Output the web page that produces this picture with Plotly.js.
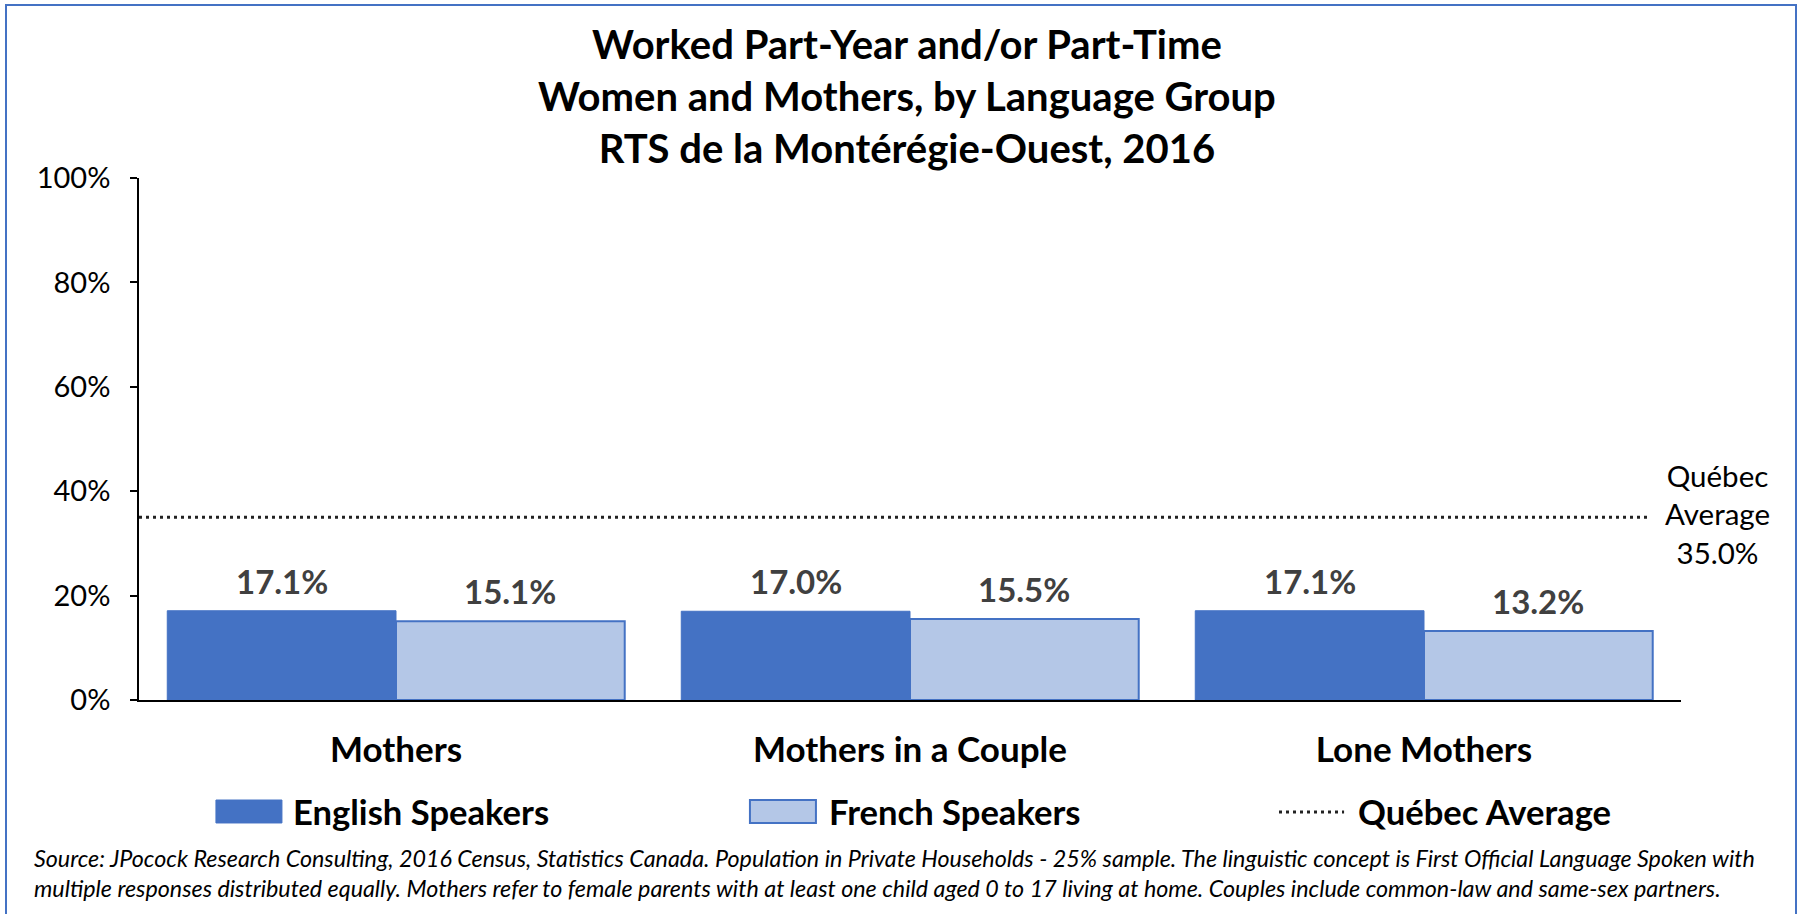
<!DOCTYPE html>
<html>
<head>
<meta charset="utf-8">
<script src="https://cdn.plot.ly/plotly-3.0.1.min.js"></script>
<style>
  html, body { margin: 0; padding: 0; background: #fff; overflow: hidden; }
  #chart { width: 1798px; height: 914px; position: absolute; left: 0; top: 0; }
  #frame { position: absolute; left: 5px; top: 4px; width: 1788px; height: 940px;
           border: 2px solid #4472C4; pointer-events: none; }
</style>
</head>
<body>
<div id="chart"></div>
<div id="frame"></div>
<script>
const categories = ["Mothers", "Mothers in a Couple", "Lone Mothers"];
const englishSpeakers = [17.1, 17.0, 17.1];
const frenchSpeakers = [15.1, 15.5, 13.2];
const quebecAverage = 35.0;
const yTicks = [0, 20, 40, 60, 80, 100];
const yTickText = ["0%", "20%", "40%", "60%", "80%", "100%"];
const seriesNames = ["English Speakers", "French Speakers", "Québec Average"];
const titleLines = ["Worked Part-Year and/or Part-Time", "Women and Mothers, by Language Group", "RTS de la Montérégie-Ouest, 2016"];
const sourceNote = "Source: JPocock Research Consulting, 2016 Census, Statistics Canada. Population in Private Households - 25% sample. The linguistic concept is First Official Language Spoken with<br>multiple responses distributed equally. Mothers refer to female parents with at least one child aged 0 to 17 living at home. Couples include common-law and same-sex partners.";

const FONT = "Lato, 'Open Sans', sans-serif";
const blue = "#4472C4";
const lightBlue = "#B4C7E7";

const W = 1798, H = 914;
const M = { l: 139, r: 117, t: 178, b: 214 };
const BARGAP = 0.11;
const plotW = W - M.l - M.r;
const halfBar = plotW / categories.length * (1 - BARGAP) / 4;

const traces = [
  {
    type: "bar", name: seriesNames[0], x: categories, y: englishSpeakers,
    marker: { color: blue, line: { color: blue, width: 1 } },
    showlegend: false, hoverinfo: "x+y"
  },
  {
    type: "bar", name: seriesNames[1], x: categories, y: frenchSpeakers,
    marker: { color: lightBlue, line: { color: blue, width: 2 } },
    showlegend: false, hoverinfo: "x+y"
  },
  {
    type: "scatter", mode: "lines", name: seriesNames[2],
    x: [0, 0.979], y: [quebecAverage, quebecAverage], xaxis: "x2",
    line: { color: "#222", width: 3, dash: "3px,4px" },
    showlegend: false, hoverinfo: "y"
  }
];

const labelFont = { family: FONT, size: 33, color: "#404040" };
const annotations = [];
categories.forEach((c, i) => {
  annotations.push({
    xref: "x", yref: "y", x: c, y: englishSpeakers[i], xshift: -halfBar, yshift: 30,
    xanchor: "center", yanchor: "middle", showarrow: false,
    text: "<b>" + englishSpeakers[i].toFixed(1) + "%</b>", font: labelFont
  });
  annotations.push({
    xref: "x", yref: "y", x: c, y: frenchSpeakers[i], xshift: halfBar, yshift: 30,
    xanchor: "center", yanchor: "middle", showarrow: false,
    text: "<b>" + frenchSpeakers[i].toFixed(1) + "%</b>", font: labelFont
  });
});

annotations.push(
  {
    xref: "paper", yref: "paper", x: 0.498, y: 1.3072,
    xanchor: "center", yanchor: "top", showarrow: false, align: "center",
    text: "<b>" + titleLines.join("<br>") + "</b>",
    font: { family: FONT, size: 40, color: "#000" }
  },
  {
    xref: "paper", yref: "y", x: 1.0235, y: quebecAverage, yshift: 3,
    xanchor: "center", yanchor: "middle", showarrow: false, align: "center",
    text: "Québec<br>Average<br>" + quebecAverage.toFixed(1) + "%",
    font: { family: FONT, size: 29.5, color: "#000" }
  },
  {
    xref: "paper", yref: "paper", x: 0.0986, y: -0.2136, xanchor: "left", yanchor: "middle",
    showarrow: false, text: "<b>" + seriesNames[0] + "</b>",
    font: { family: FONT, size: 34.6, color: "#000" }
  },
  {
    xref: "paper", yref: "paper", x: 0.4462, y: -0.2136, xanchor: "left", yanchor: "middle",
    showarrow: false, text: "<b>" + seriesNames[1] + "</b>",
    font: { family: FONT, size: 34.6, color: "#000" }
  },
  {
    xref: "paper", yref: "paper", x: 0.7892, y: -0.2136, xanchor: "left", yanchor: "middle",
    showarrow: false, text: "<b>" + seriesNames[2] + "</b>",
    font: { family: FONT, size: 34.6, color: "#000" }
  },
  {
    xref: "paper", yref: "paper", x: -0.0694, y: -0.272, xanchor: "left", yanchor: "top",
    showarrow: false, align: "left", text: "<i>" + sourceNote + "</i>",
    font: { family: FONT, size: 23.3, color: "#000" }
  }
);

const shapes = [
  { type: "rect", xref: "paper", yref: "paper", x0: 0.0499, x1: 0.0927, y0: -0.1916, y1: -0.2356,
    fillcolor: blue, line: { color: blue, width: 1 } },
  { type: "rect", xref: "paper", yref: "paper", x0: 0.3962, x1: 0.4390, y0: -0.1916, y1: -0.2356,
    fillcolor: lightBlue, line: { color: blue, width: 2 } },
  { type: "line", xref: "paper", yref: "paper", x0: 0.7393, x1: 0.7815, y0: -0.2146, y1: -0.2146,
    line: { color: "#222", width: 3, dash: "3px,4px" } }
];

const layout = {
  width: W, height: H,
  margin: M,
  paper_bgcolor: "#fff", plot_bgcolor: "#fff",
  font: { family: FONT, color: "#000" },
  barmode: "group", bargap: BARGAP, bargroupgap: 0,
  xaxis: {
    type: "category", range: [-0.5, 2.5], showgrid: false, zeroline: false,
    showline: true, linecolor: "#000", linewidth: 2, ticks: "",
    ticklabelstandoff: 18,
    tickfont: { family: FONT, size: 35, color: "#000", weight: "bold" }
  },
  xaxis2: { overlaying: "x", range: [0, 1], visible: false, fixedrange: true },
  yaxis: {
    range: [0, 100], tickmode: "array", tickvals: yTicks, ticktext: yTickText,
    showgrid: false, zeroline: false,
    showline: true, linecolor: "#000", linewidth: 1.5, ticks: "outside", ticklen: 7,
    tickcolor: "#000", tickwidth: 1.5, ticklabelstandoff: 14,
    tickfont: { family: FONT, size: 29, color: "#000" }
  },
  annotations: annotations,
  shapes: shapes,
  showlegend: false
};

Plotly.newPlot("chart", traces, layout, { displayModeBar: false, responsive: false });
</script>
</body>
</html>
